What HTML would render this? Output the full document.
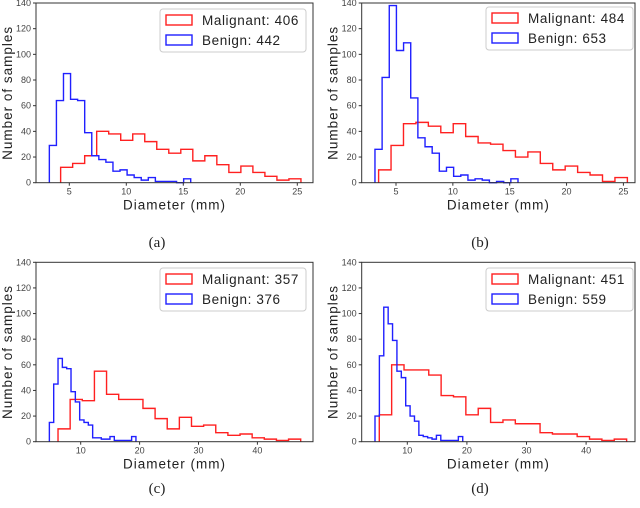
<!DOCTYPE html>
<html><head><meta charset="utf-8"><style>
body{margin:0;background:#fff;width:640px;height:508px;overflow:hidden}
svg{display:block}
.tk{font-family:"Liberation Sans",sans-serif;font-size:9px;fill:#444}
.lab{font-family:"Liberation Sans",sans-serif;font-size:13.5px;fill:#222;letter-spacing:1px}
.leg{font-family:"Liberation Sans",sans-serif;font-size:13.5px;fill:#222;letter-spacing:0.6px}
.cap{font-family:"Liberation Serif",serif;font-size:15px;fill:#222}
</style></head><body>
<svg id="fig" width="640" height="508" viewBox="0 0 640 508"></svg>
<script>
// Panel (a)
const aMalStart = 4.24, aMalWidth = 1.054;
const aMalCounts = [12,15,21,40,38,33,38,32,26,23,26,17,21,14,8,13,8,5,2,3];
const aBenStart = 3.25, aBenWidth = 0.62;
const aBenCounts = [29,64,85,65,64,39,21,18,16,9,10,6,4,2,4,1,1,1,0,3];
// Panel (b)
const bMalStart = 3.47, bMalWidth = 1.094;
const bMalCounts = [10,29,46,47,44,39,46,36,31,30,25,20,24,15,10,13,8,6,1,4];
const bBenStart = 3.15, bBenWidth = 0.629;
const bBenCounts = [26,82,138,103,109,66,35,28,23,9,12,5,6,2,3,2,0,1,0,3];
// Panel (c)
const cMalStart = 6.15, cMalWidth = 2.06;
const cMalCounts = [10,33,32,55,37,33,33,26,18,10,19,12,13,7,5,6,3,2,1,2];
const cBenStart = 4.68, cBenWidth = 0.735;
const cBenCounts = [15,45,65,58,57,39,31,17,15,13,3,3,2,2,4,1,1,1,1,4];
// Panel (d)
const dMalStart = 5.3, dMalWidth = 2.075;
const dMalCounts = [21,60,56,56,52,36,35,21,26,15,17,14,14,7,6,6,4,2,1,2];
const dBenStart = 4.58, dBenWidth = 0.736;
const dBenCounts = [20,67,105,92,79,55,50,28,20,16,5,4,3,2,5,1,1,1,1,4];

const yTicks = [0,20,40,60,80,100,120,140];
const xTicksAB = [5,10,15,20,25];
const xTicksCD = [10,20,30,40];
const legendNames = ["Malignant","Benign"];
const totals = {a:[406,442], b:[484,653], c:[357,376], d:[451,559]};

const NS = "http://www.w3.org/2000/svg";
const fig = document.getElementById('fig');
function mk(tag, attrs, parent){const e=document.createElementNS(NS,tag);for(const k in attrs)e.setAttribute(k,attrs[k]);(parent||fig).appendChild(e);return e;}

function panel(id, box, xTicks, xref, mal, ben, leg, cap){
  const g = mk('g',{});
  
  
  const [x0,y0,x1,y1] = box;
  const X = v => xref[1] + (v - xref[0]) * xref[2];
  const Y = v => y1 - v / 140 * (y1 - y0);
  function step(start, width, counts, color, name){
    let d = 'M' + X(start) + ',' + Y(0);
    counts.forEach((c,i)=>{const a=X(start+i*width), b=X(start+(i+1)*width); d += ' L'+a+','+Y(c)+' L'+b+','+Y(c);});
    d += ' L' + X(start+counts.length*width) + ',' + Y(0);
    const p = mk('path',{d:d,fill:'none',stroke:color,'stroke-width':1.4},g);
    
    
  }
  step(mal[0],mal[1],mal[2],'#ff2020','malignant-histogram');
  step(ben[0],ben[1],ben[2],'#2020ff','benign-histogram');
  const frame = mk('rect',{x:x0,y:y0,width:x1-x0,height:y1-y0,fill:'none',stroke:'#333','stroke-width':1},g);
  
  
  yTicks.forEach(t=>{
    mk('line',{x1:x0-3,x2:x0,y1:Y(t),y2:Y(t),stroke:'#333'},g);
    const tx = mk('text',{x:x0-5,y:Y(t)+3,'text-anchor':'end',class:'tk'},g); tx.textContent=t;
    
    
  });
  xTicks.forEach(t=>{
    mk('line',{x1:X(t),x2:X(t),y1:y1,y2:y1+3,stroke:'#333'},g);
    const tx = mk('text',{x:X(t),y:y1+12,'text-anchor':'middle',class:'tk'},g); tx.textContent=t;
    
    
  });
  const xl = mk('text',{x:(x0+x1)/2,y:y1+27,'text-anchor':'middle',class:'lab'},g); xl.textContent='Diameter (mm)';
  
  
  const yl = mk('text',{x:0,y:0,'text-anchor':'middle',class:'lab',transform:'translate('+(x0-24)+','+((y0+y1)/2)+') rotate(-90)'},g); yl.textContent='Number of samples';
  
  
  // legend
  const lg = mk('g',{},g);
  
  
  const lx = leg[0], ly = leg[1];
  mk('rect',{x:lx,y:ly,width:leg[2],height:43,rx:3,fill:'#fff',stroke:'#ccc'},lg);
  const cols = ['#ff2020','#2020ff'];
  [0,1].forEach(i=>{
    mk('rect',{x:lx+6,y:ly+6+i*20,width:26,height:10,fill:'none',stroke:cols[i],'stroke-width':1.4},lg);
    const t = mk('text',{x:lx+42,y:ly+16+i*20,class:'leg'},lg); t.textContent=legendNames[i]+': '+totals[id][i];
    
    
  });
  const c = mk('text',{x:cap[0],y:cap[1],'text-anchor':'middle',class:'cap'},g); c.textContent='('+id+')';
  
  
}
panel('a',[36,3,313,182.7],xTicksAB,[5,69.3,11.4],[aMalStart,aMalWidth,aMalCounts],[aBenStart,aBenWidth,aBenCounts],[160,9,146],[157,247]);
panel('b',[361.7,3,635,182.7],xTicksAB,[5,396,11.37],[bMalStart,bMalWidth,bMalCounts],[bBenStart,bBenWidth,bBenCounts],[486,7,147],[480,247]);
panel('c',[36,262.3,313,441.7],xTicksCD,[10,80.7,5.89],[cMalStart,cMalWidth,cMalCounts],[cBenStart,cBenWidth,cBenCounts],[160,268,146],[157,493]);
panel('d',[361.7,262.3,635,441.7],xTicksCD,[10,407.3,5.96],[dMalStart,dMalWidth,dMalCounts],[dBenStart,dBenWidth,dBenCounts],[486,268,147],[480,493]);
</script>
</body></html>
